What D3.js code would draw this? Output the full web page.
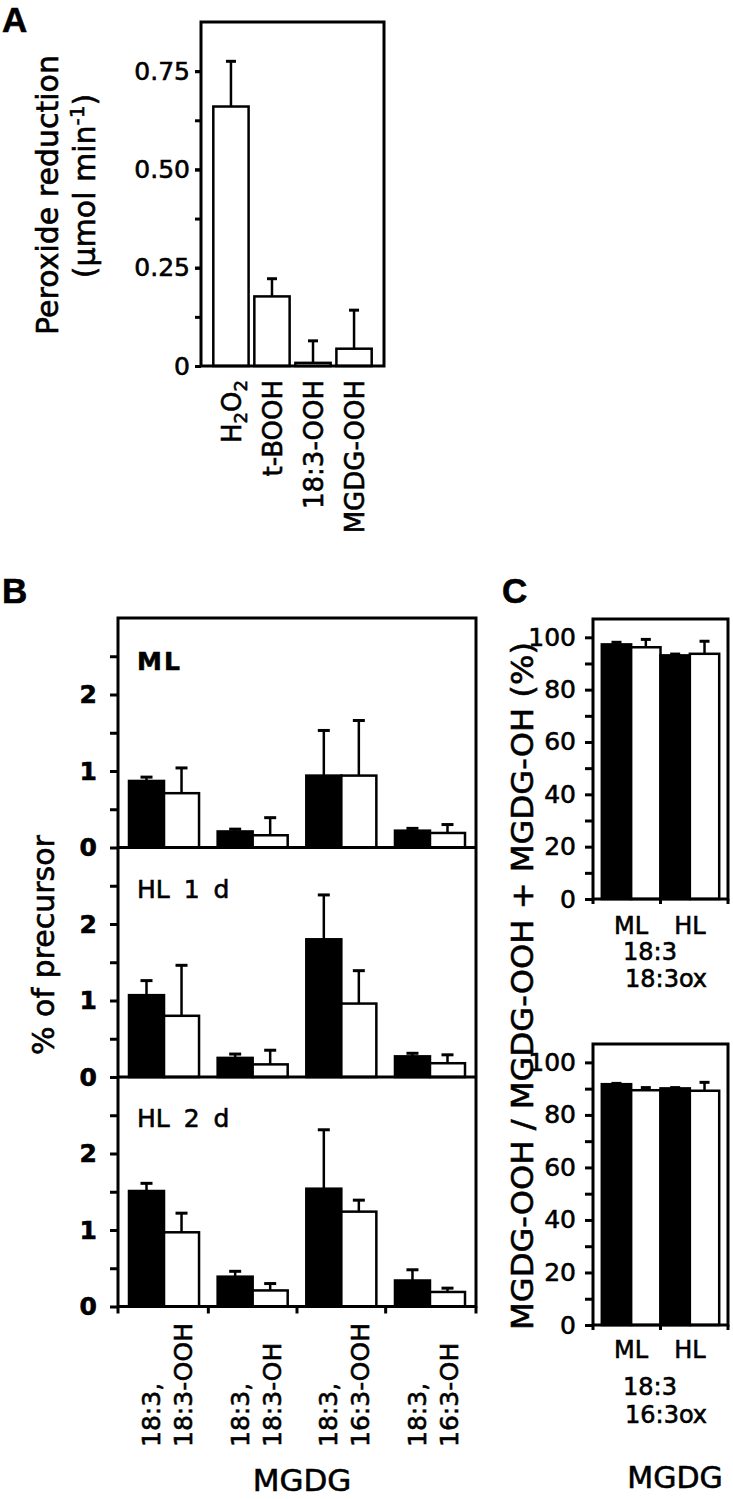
<!DOCTYPE html>
<html lang="en">
<head>
<meta charset="utf-8">
<title>Peroxide reduction and MGDG oxidation</title>
<script src="https://d3js.org/d3.v7.min.js"></script>
<style>
  body { margin: 0; background: #fff; }
  svg text { font-family: "DejaVu Sans", sans-serif; fill: #000; stroke: #000; stroke-width: 0.6px; }
</style>
</head>
<body>
<script>
// ---- Panel A : peroxide reduction ----
var aCategories = ["H2O2", "t-BOOH", "18:3-OOH", "MGDG-OOH"];
var aValues = [0.66, 0.177, 0.008, 0.044];
var aErrors = [0.115, 0.045, 0.056, 0.098];
var aTicks = [0, 0.25, 0.5, 0.75];

// ---- Panel B : % of precursor (black / white bars per group) ----
var bPanels = ["ML", "HL 1 d", "HL 2 d"];
var bGroups = [["18:3,", "18:3-OOH"], ["18:3,", "18:3-OH"], ["18:3,", "16:3-OOH"], ["18:3,", "16:3-OH"]];
var bBlack = [[0.87, 0.21, 0.94, 0.22], [1.07, 0.25, 1.80, 0.27], [1.51, 0.39, 1.54, 0.34]];
var bBlackErr = [[0.05, 0.03, 0.59, 0.03], [0.19, 0.05, 0.58, 0.04], [0.10, 0.07, 0.77, 0.14]];
var bWhite = [[0.71, 0.16, 0.94, 0.19], [0.80, 0.165, 0.96, 0.18], [0.97, 0.21, 1.24, 0.19]];
var bWhiteErr = [[0.33, 0.23, 0.72, 0.11], [0.66, 0.185, 0.43, 0.11], [0.25, 0.09, 0.15, 0.05]];
var bTicks = [0, 1, 2];

// ---- Panel C : MGDG-OOH / (MGDG-OOH + MGDG-OH) ----
var cLight = ["ML", "HL"];
var cSpecies = [["18:3", "18:3ox"], ["18:3", "16:3ox"]];
var cBlack = [[97.3, 93.1], [91.7, 90.1]];
var cBlackErr = [[0.8, 0.5], [0.3, 0.3]];
var cWhite = [[96.2, 93.7], [89.4, 89.2]];
var cWhiteErr = [[3.0, 4.8], [1.0, 3.2]];
var cTicks = [0, 20, 40, 60, 80, 100];

var W = 733, H = 1499;
var svg = d3.select("body").append("svg").attr("width", W).attr("height", H);

// small helper: bar + upward error bar
function drawBars(g, rows, yScale, capHalf) {
  g.selectAll("rect.bar").data(rows).enter().append("rect")
    .attr("class", "bar")
    .attr("x", function(d) { return d.x; })
    .attr("width", function(d) { return d.w; })
    .attr("y", function(d) { return yScale(d.v); })
    .attr("height", function(d) { return yScale(0) - yScale(d.v); })
    .attr("fill", function(d) { return d.fill; })
    .attr("stroke", "#000").attr("stroke-width", 2.5);
  g.selectAll("line.err").data(rows).enter().append("line")
    .attr("class", "err")
    .attr("x1", function(d) { return d.x + d.w / 2; })
    .attr("x2", function(d) { return d.x + d.w / 2; })
    .attr("y1", function(d) { return yScale(d.v); })
    .attr("y2", function(d) { return yScale(d.v + d.e); })
    .attr("stroke", "#000").attr("stroke-width", 2.5);
  g.selectAll("line.cap").data(rows).enter().append("line")
    .attr("class", "cap")
    .attr("x1", function(d) { return d.x + d.w / 2 - capHalf; })
    .attr("x2", function(d) { return d.x + d.w / 2 + capHalf; })
    .attr("y1", function(d) { return yScale(d.v + d.e); })
    .attr("y2", function(d) { return yScale(d.v + d.e); })
    .attr("stroke", "#000").attr("stroke-width", 3);
}

function styleAxis(g, fontSize, weight) {
  g.select(".domain").remove();
  g.selectAll(".tick line").attr("stroke", "#000").attr("stroke-width", 3);
  g.selectAll(".tick text").attr("font-size", fontSize).attr("font-weight", weight || "normal")
    .attr("font-family", "DejaVu Sans").attr("fill", "#000");
}

// ================= Panel A =================
var yA = d3.scaleLinear().domain([0, 0.875]).range([366, 22]);
var xA = d3.scaleBand().domain(aCategories).range([201, 384]).paddingInner(0.14).paddingOuter(0.3);

var gA = svg.append("g");
gA.append("g").attr("transform", "translate(201,0)")
  .call(d3.axisLeft(yA).tickValues(d3.range(0, 0.875, 0.125)).tickSize(6).tickFormat(""))
  .call(styleAxis, 25);
gA.append("g").attr("transform", "translate(201,0)")
  .call(d3.axisLeft(yA).tickValues(aTicks).tickSize(6).tickPadding(5)
    .tickFormat(function(d) { return d === 0 ? "0" : d3.format(".2f")(d); }))
  .call(styleAxis, 25);

drawBars(gA, aCategories.map(function(c, i) {
  return { x: xA(c), w: xA.bandwidth(), v: aValues[i], e: aErrors[i], fill: "#fff" };
}), yA, 5);

gA.append("rect").attr("x", 201).attr("y", yA(0.875)).attr("width", 183).attr("height", yA(0) - yA(0.875))
  .attr("fill", "none").attr("stroke", "#000").attr("stroke-width", 3);

// rotated category labels
aCategories.forEach(function(c) {
  var t = gA.append("text")
    .attr("transform", "translate(" + (xA(c) + xA.bandwidth() / 2 + 10) + ",380) rotate(-90)")
    .attr("text-anchor", "end").attr("font-size", 26);
  if (c === "H2O2") {
    t.append("tspan").text("H");
    t.append("tspan").attr("font-size", 18).attr("dy", 6).text("2");
    t.append("tspan").attr("dy", -6).text("O");
    t.append("tspan").attr("font-size", 18).attr("dy", 6).text("2");
  } else {
    t.text(c);
  }
});

gA.append("text").attr("transform", "translate(58,195) rotate(-90)")
  .attr("text-anchor", "middle").attr("font-size", 30).text("Peroxide reduction");
var yl = gA.append("text").attr("transform", "translate(95,186) rotate(-90)")
  .attr("text-anchor", "middle").attr("font-size", 30);
yl.append("tspan").text("(\u00b5mol min");
yl.append("tspan").attr("font-size", 20).attr("dy", -11).text("-1");
yl.append("tspan").attr("dy", 11).text(")");

// ================= Panel B =================
var bLeft = 118, bRight = 476, bTop = 618, bH = 229.5;
var xB = d3.scaleBand().domain(d3.range(bGroups.length)).range([bLeft, bRight]).paddingInner(0.21).paddingOuter(0.124);
var subB = d3.scaleBand().domain([0, 1]).range([0, xB.bandwidth()]);

bPanels.forEach(function(name, p) {
  var top = bTop + p * bH;
  var yB = d3.scaleLinear().domain([0, 3]).range([top + bH, top]);
  var g = svg.append("g");
  g.append("g").attr("transform", "translate(" + bLeft + ",0)")
    .call(d3.axisLeft(yB).tickValues([0.5, 1.5, 2.5]).tickSize(8).tickFormat(""))
    .call(styleAxis, 25);
  g.append("g").attr("transform", "translate(" + bLeft + ",0)")
    .call(d3.axisLeft(yB).tickValues(bTicks).tickSize(8).tickPadding(13).tickFormat(d3.format("d")))
    .call(styleAxis, 25, "bold");

  var rows = [];
  bGroups.forEach(function(grp, i) {
    rows.push({ x: xB(i) + subB(0), w: subB.bandwidth(), v: bBlack[p][i], e: bBlackErr[p][i], fill: "#000" });
    rows.push({ x: xB(i) + subB(1), w: subB.bandwidth(), v: bWhite[p][i], e: bWhiteErr[p][i], fill: "#fff" });
  });
  drawBars(g, rows, yB, 6);

  g.append("line").attr("x1", bLeft).attr("x2", bRight).attr("y1", yB(0)).attr("y2", yB(0))
    .attr("stroke", "#000").attr("stroke-width", 3);
  g.append("text").attr("x", 137).attr("y", top + (p === 0 ? 52 : 50))
    .attr("font-size", 25).attr("font-weight", p === 0 ? "bold" : "normal")
    .attr("word-spacing", p === 0 ? 0 : 6).attr("letter-spacing", p === 0 ? 2 : 0)
    .text(name);
});

svg.append("rect").attr("x", bLeft).attr("y", bTop).attr("width", bRight - bLeft).attr("height", 3 * bH)
  .attr("fill", "none").attr("stroke", "#000").attr("stroke-width", 3);

// group separator ticks on the bottom axis
var bSep = [bLeft].concat(d3.range(1, bGroups.length).map(function(i) {
  return xB(i) - xB.step() * xB.paddingInner() / 2;
})).concat([bRight]);
svg.selectAll("line.bsep").data(bSep).enter().append("line")
  .attr("x1", function(d) { return d; }).attr("x2", function(d) { return d; })
  .attr("y1", bTop + 3 * bH).attr("y2", bTop + 3 * bH + 7)
  .attr("stroke", "#000").attr("stroke-width", 3);

bGroups.forEach(function(grp, i) {
  var cx = xB(i) + xB.bandwidth() / 2;
  grp.forEach(function(line, j) {
    svg.append("text")
      .attr("transform", "translate(" + (cx + (j === 0 ? -4 : 28)) + ",1447) rotate(-90)")
      .attr("text-anchor", "start").attr("font-size", 25).text(line);
  });
});

svg.append("text").attr("transform", "translate(54,945) rotate(-90)")
  .attr("text-anchor", "middle").attr("font-size", 30).text("% of precursor");
svg.append("text").attr("x", 302).attr("y", 1491).attr("text-anchor", "middle")
  .attr("font-size", 31).text("MGDG");

// ================= Panel C =================
var cLeft = 593, cRight = 728;
var cFrames = [{ top: 619, zero: 899 }, { top: 1044, zero: 1325 }];
var cLabelDy = [[35, 61, 88], [33, 70, 98]];
var xC = d3.scaleBand().domain(cLight).range([cLeft, cRight]).paddingInner(0).paddingOuter(0.15);
var subC = d3.scaleBand().domain([0, 1]).range([0, xC.bandwidth()]);

cFrames.forEach(function(f, p) {
  var yC = d3.scaleLinear().domain([0, 107]).range([f.zero, f.top]);
  var g = svg.append("g");
  g.append("g").attr("transform", "translate(" + cLeft + ",0)")
    .call(d3.axisLeft(yC).tickValues([10, 30, 50, 70, 90]).tickSize(8).tickFormat(""))
    .call(styleAxis, 25);
  g.append("g").attr("transform", "translate(" + cLeft + ",0)")
    .call(d3.axisLeft(yC).tickValues(cTicks).tickSize(8).tickPadding(9).tickFormat(d3.format("d")))
    .call(styleAxis, 25);

  var rows = [];
  cLight.forEach(function(l, i) {
    rows.push({ x: xC(l) + subC(0), w: subC.bandwidth(), v: cBlack[p][i], e: cBlackErr[p][i], fill: "#000" });
    rows.push({ x: xC(l) + subC(1), w: subC.bandwidth(), v: cWhite[p][i], e: cWhiteErr[p][i], fill: "#fff" });
  });
  drawBars(g, rows, yC, 5);

  g.append("rect").attr("x", cLeft).attr("y", f.top).attr("width", cRight - cLeft).attr("height", f.zero - f.top)
    .attr("fill", "none").attr("stroke", "#000").attr("stroke-width", 3);
  g.selectAll("line.csep").data([cLeft, xC("HL"), cRight]).enter().append("line")
    .attr("x1", function(d) { return d; }).attr("x2", function(d) { return d; })
    .attr("y1", f.zero).attr("y2", f.zero + 5)
    .attr("stroke", "#000").attr("stroke-width", 3);

  g.selectAll("text.light").data(cLight).enter().append("text")
    .attr("x", function(d) { return xC(d) + xC.bandwidth() / 2; })
    .attr("y", f.zero + cLabelDy[p][0]).attr("text-anchor", "middle").attr("font-size", 24)
    .text(function(d) { return d; });
  g.append("text").attr("x", 623).attr("y", f.zero + cLabelDy[p][1]).attr("font-size", 24).text(cSpecies[p][0]);
  g.append("text").attr("x", 625).attr("y", f.zero + cLabelDy[p][2]).attr("font-size", 24).text(cSpecies[p][1]);
});

svg.append("text").attr("transform", "translate(533,986) rotate(-90)")
  .attr("text-anchor", "middle").attr("font-size", 31)
  .attr("textLength", 688).attr("lengthAdjust", "spacingAndGlyphs")
  .text("MGDG-OOH / MGDG-OOH + MGDG-OH (%)");
svg.append("text").attr("x", 675).attr("y", 1488).attr("text-anchor", "middle")
  .attr("font-size", 30).text("MGDG");

// panel letters
[["A", 2, 32], ["B", 2, 603], ["C", 502, 603]].forEach(function(d) {
  svg.append("text").attr("x", d[1]).attr("y", d[2])
    .style("font-family", "'Liberation Sans', sans-serif")
    .attr("font-size", 35).attr("font-weight", "bold").text(d[0]);
});
</script>
</body>
</html>
